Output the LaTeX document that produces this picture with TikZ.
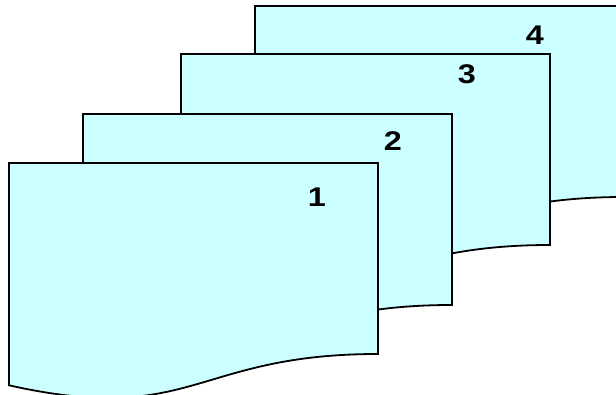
\documentclass[tikz,border=0pt]{standalone}
\usepackage{graphicx}
\usepackage{fontspec}
\setmainfont{Liberation Sans}
\definecolor{pagecyan}{HTML}{CCFFFF}

\begin{document}
\begin{tikzpicture}[x=1pt,y=-1pt,line width=1.8pt,
    docnum/.style={font=\fontsize{27}{27}\selectfont\bfseries}]
      % frame of the picture
      \clip (0,0) rectangle (616,395);
      \fill[white] (0,0) rectangle (616,395);

      % pages from back (4) to front (1)
      \foreach \x/\y/\n/\lx/\ly in {255/6/4/535/35, 181/54/3/467/74, 83/114/2/393/141, 9/163/1/317/197}{
        \draw[fill=pagecyan] (\x,\y) -- (\x+369,\y) -- (\x+369,\y+191)
          .. controls (\x+184.5,\y+191) and (\x+184.5,\y+263.6) .. (\x,\y+222.3) -- cycle;
        \node[docnum] (num\n) at (\lx,\ly) {\scalebox{1.2}[1]{\n}};
      }
    \end{tikzpicture}
\end{document}
